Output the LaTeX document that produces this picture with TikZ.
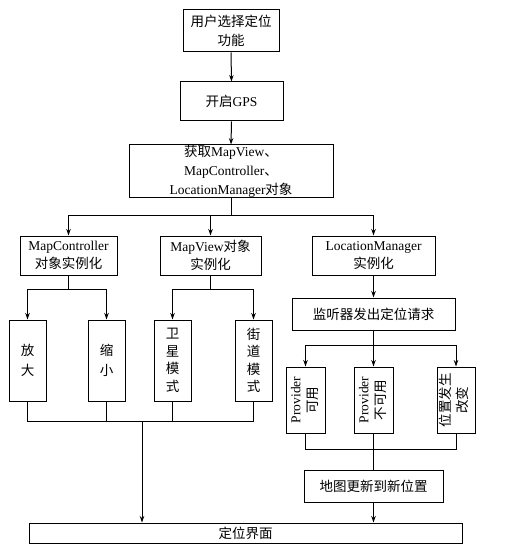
\documentclass[tikz,border=0pt]{standalone}
\usepackage{fontspec}
\setmainfont{Liberation Serif}
\newfontfamily\cjk{Noto Sans CJK SC}
\newcommand\zh[1]{{\cjk #1}}
\newcommand\vtext[2]{\rotatebox{90}{\begin{tabular}{@{}c@{}}#1\\#2\end{tabular}}}
\usetikzlibrary{arrows.meta}
\begin{document}
\begin{tikzpicture}[x=1pt,y=-1pt,
  box/.style={draw, line width=1pt, inner sep=0pt, align=center,
    font=\fontsize{13.5}{18.5}\selectfont},
  arr/.style={line width=1pt, -{Stealth[length=6.5pt,width=4.5pt]}},
  ln/.style={line width=1pt}]
\useasboundingbox (0,0) rectangle (528,553);

% top chain
\node[box, minimum width=96pt, minimum height=42pt] (n1) at (231,31) {\zh{用户选择定位}\\\zh{功能}};
\node[box, minimum width=103pt, minimum height=39pt] (n2) at (231.5,101.5) {\zh{开启}GPS};
\node[box, minimum width=204pt, minimum height=53pt, font=\fontsize{13.5}{19}\selectfont] (n3) at (231,171.5)
  {\zh{获取}MapView\zh{、}\\MapController\zh{、}\\LocationManager\zh{对象}};

% second level
\node[box, minimum width=97pt, minimum height=39pt] (mc) at (68.5,255.5) {MapController\\\zh{对象实例化}};
\node[box, minimum width=101pt, minimum height=39pt] (mv) at (210.5,255.5) {MapView\zh{对象}\\\zh{实例化}};
\node[box, minimum width=123pt, minimum height=39pt] (lm) at (373.5,255.5) {LocationManager\\\zh{实例化}};

% left leaves
\node[box, minimum width=37pt, minimum height=81pt, font=\fontsize{13.5}{20}\selectfont] (fd) at (27.5,360.5) {\zh{放}\\\zh{大}};
\node[box, minimum width=37pt, minimum height=81pt, font=\fontsize{13.5}{20}\selectfont] (sx) at (106.5,360.5) {\zh{缩}\\\zh{小}};
\node[box, minimum width=37pt, minimum height=81pt, font=\fontsize{13.5}{17.5}\selectfont] (wx) at (172.5,360.5) {\zh{卫}\\\zh{星}\\\zh{模}\\\zh{式}};
\node[box, minimum width=37pt, minimum height=81pt, font=\fontsize{13.5}{17.5}\selectfont] (jd) at (253.5,360.5) {\zh{街}\\\zh{道}\\\zh{模}\\\zh{式}};

% right branch
\node[box, minimum width=163pt, minimum height=32pt] (jt) at (373.5,314) {\zh{监听器发出定位请求}};
\node[box, minimum width=39pt, minimum height=66pt, font=\fontsize{13.5}{17}\selectfont] (p1) at (305.5,400) {\vtext{Provider}{\zh{可用}}};
\node[box, minimum width=39pt, minimum height=66pt, font=\fontsize{13.5}{17}\selectfont] (p2) at (373.5,400) {\vtext{Provider}{\zh{不可用}}};
\node[box, minimum width=38pt, minimum height=66pt, font=\fontsize{13.5}{17}\selectfont] (p3) at (456,400) {\vtext{\zh{位置发生}}{\zh{改变}}};
\node[box, minimum width=139pt, minimum height=32pt] (up) at (373.5,486) {\zh{地图更新到新位置}};

% bottom
\node[box, minimum width=433pt, minimum height=20pt] (dw) at (245.5,533) {\zh{定位界面}};

% connectors
\draw[arr] (n1.south) -- (n2.north);
\draw[arr] (n2.south) -- (n3.north);

\draw[ln] (n3.south) -- ++(0,17) coordinate (s1);
\draw[arr] (s1) -| (mc.north);
\draw[arr] (s1) -| (mv.north);
\draw[arr] (s1) -| (lm.north);

\draw[ln] (mc.south) -- ++(0,14) coordinate (s2);
\draw[arr] (s2) -| (fd.north);
\draw[arr] (s2) -| (sx.north);
\draw[ln] (mv.south) -- ++(0,14) coordinate (s3);
\draw[arr] (s3) -| (wx.north);
\draw[arr] (s3) -| (jd.north);

\coordinate (m1) at (142,421);
\draw[ln] (fd.south) -- (fd.south |- m1) -- (jd.south |- m1) -- (jd.south);
\draw[ln] (sx.south) -- (sx.south |- m1);
\draw[ln] (wx.south) -- (wx.south |- m1);
\draw[arr] (m1) -- (m1 |- dw.north);

\draw[arr] (lm.south) -- (jt.north);
\draw[ln] (jt.south) -- ++(0,15) coordinate (s4);
\draw[arr] (s4) -| (p1.north);
\draw[arr] (s4) -- (p2.north);
\draw[arr] (s4) -| (p3.north);

\coordinate (m2) at (373.5,449);
\draw[ln] (p1.south) -- (p1.south |- m2) -- (p3.south |- m2) -- (p3.south);
\draw[ln] (p2.south) -- (m2);
\draw[ln] (m2) -- (up.north);
\draw[arr] (up.south) -- (up.south |- dw.north);
\end{tikzpicture}
\end{document}
